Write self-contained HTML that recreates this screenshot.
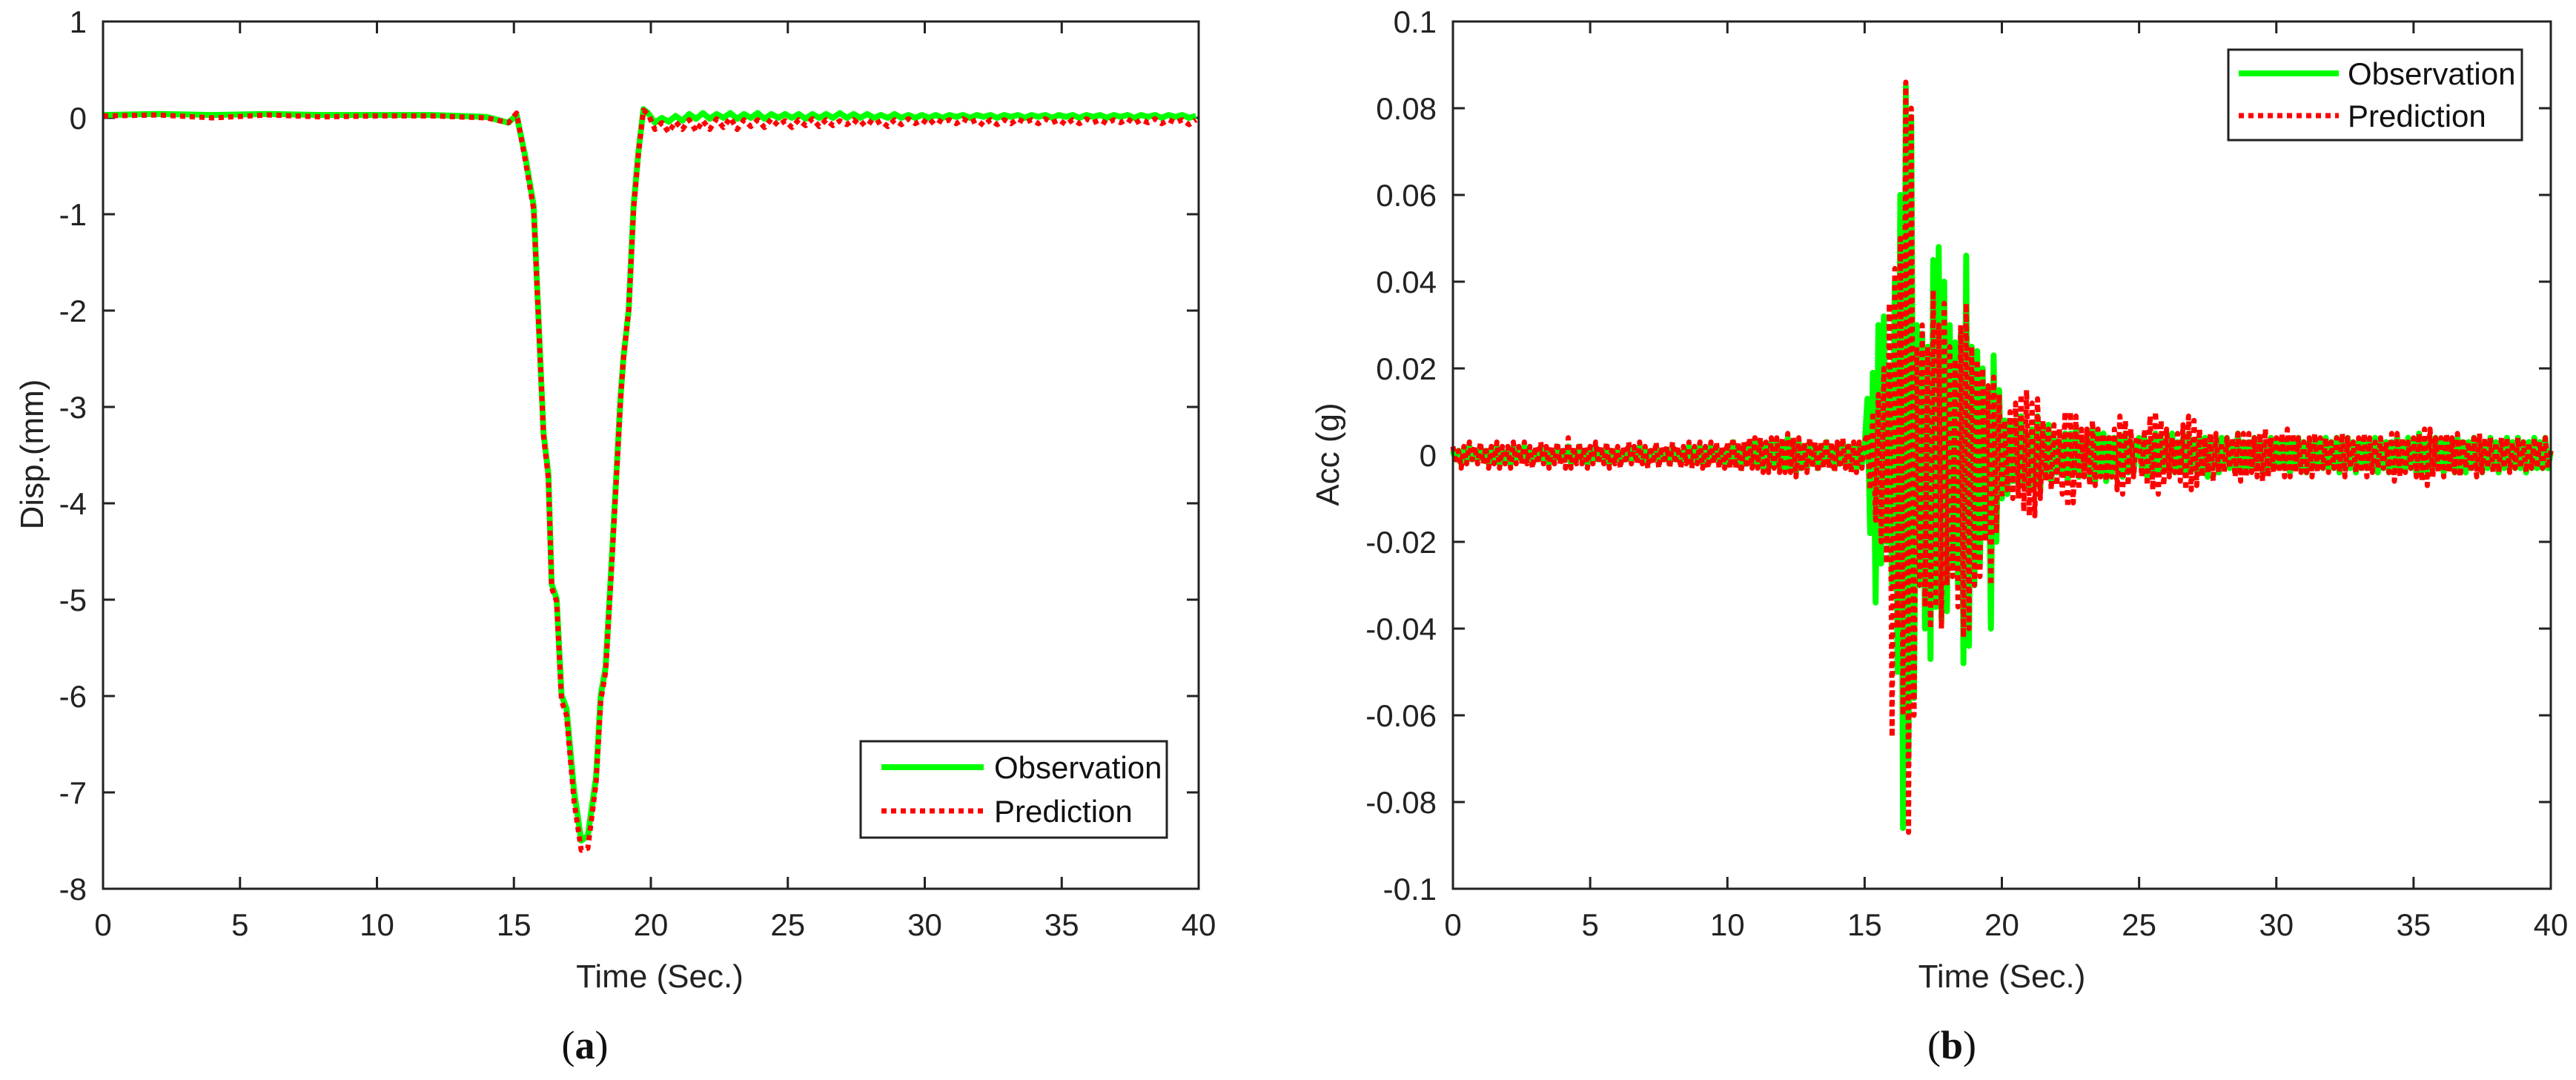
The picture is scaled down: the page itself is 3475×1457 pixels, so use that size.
<!DOCTYPE html>
<html><head><meta charset="utf-8"><style>
html,body{margin:0;padding:0;background:#fff;}
svg{display:block;font-family:"Liberation Sans",Arial,sans-serif;}
</style></head><body>
<svg id="fig" width="3475" height="1457" viewBox="0 0 3475 1457" xmlns="http://www.w3.org/2000/svg">
<g id="pa"></g>
<g id="pb"></g>
</svg>
<script>
// ---- Panel (a) data: displacement (mm) ----
const dispTimes=[0,2,4,6,8,10,12,14,14.8,15.1,15.42,15.72,15.96,16.08,16.26,16.38,16.56,16.74,16.92,17.2,17.46,17.7,18.0,18.17,18.35,18.59,18.89,19.0,19.19,19.37,19.55,19.73,19.9];
const dispObs=[0.03,0.04,0.03,0.04,0.03,0.03,0.03,0.01,-0.05,0.03,-0.41,-0.91,-2.48,-3.27,-3.7,-4.84,-4.99,-5.99,-6.13,-6.99,-7.5,-7.45,-6.84,-5.99,-5.7,-4.49,-2.91,-2.49,-1.99,-0.91,-0.34,0.09,0.05];
const dispPred=[0.02,0.03,0.0,0.03,0.01,0.02,0.02,0.0,-0.05,0.05,-0.45,-0.95,-2.5,-3.3,-3.75,-4.88,-5.02,-6.05,-6.2,-7.1,-7.6,-7.58,-6.9,-6.05,-5.75,-4.55,-2.95,-2.5,-2.0,-0.95,-0.36,0.08,0.04];
const tailStart=20.15, tailStep=0.25;
const tailObs=[-0.05,0.0,-0.04,0.02,-0.03,0.04,-0.01,0.05,-0.01,0.04,0,0.05,-0.01,0.04,0.0,0.05,-0.01,0.04,0,0.04,0,0.04,-0.01,0.04,0,0.04,0,0.05,0,0.04,0,0.04,0,0.03,0,0.04,0,0.03,0,0.03,0,0.03,0,0.03,0.01,0.03,0,0.03,0.01,0.03,0,0.03,0.01,0.03,0,0.03,0.01,0.03,0,0.03,0.01,0.03,0,0.03,0.01,0.03,0,0.03,0.01,0.03,0,0.03,0.01,0.03,0,0.03,0.01,0.03,0,0.02];
const tailPred=[-0.12,-0.05,-0.15,-0.04,-0.12,-0.02,-0.14,-0.03,-0.12,-0.01,-0.1,0,-0.12,-0.02,-0.09,-0.02,-0.1,-0.01,-0.08,-0.03,-0.1,-0.02,-0.08,-0.01,-0.09,-0.02,-0.08,-0.03,-0.07,-0.02,-0.08,-0.02,-0.07,-0.03,-0.09,-0.02,-0.07,-0.01,-0.06,-0.02,-0.07,-0.01,-0.05,-0.02,-0.06,-0.01,-0.05,-0.02,-0.08,-0.02,-0.07,-0.02,-0.06,-0.01,-0.05,-0.02,-0.06,-0.01,-0.05,-0.02,-0.07,-0.02,-0.06,-0.01,-0.05,-0.02,-0.06,-0.02,-0.05,-0.01,-0.06,-0.02,-0.05,-0.01,-0.06,-0.02,-0.05,-0.02,-0.07,-0.02];
const dispYTicks=[1,0,-1,-2,-3,-4,-5,-6,-7,-8];
const xTicks=[0,5,10,15,20,25,30,35,40];
// ---- Panel (b) data: acceleration (milli-g), sampled every 0.1 s ----
const accStep=0.1;
const accObs=[1,-1,1,-2,1,-1,2,-1,1,-1,2,-1,1,-2,1,-1,2,-2,1,-1,1,-2,2,-1,1,-1,2,-1,1,-2,1,-1,2,-1,1,-2,1,-1,2,-1,1,-1,2,-2,1,-1,2,-1,1,-2,
1,-1,2,-1,1,-1,2,-2,1,-1,1,-2,1,-1,2,-1,1,-1,2,-1,1,-2,1,-1,2,-2,1,-1,1,-2,2,-1,1,-2,1,-1,2,-2,1,-1,2,-2,1,-2,2,-1,2,-2,1,-2,
2,-2,3,-2,2,-3,2,-2,3,-2,3,-2,3,-3,2,-3,3,-2,3,-3,3,-3,4,-3,3,-4,3,-3,2,-3,3,-2,2,-3,2,-2,3,-2,2,-3,2,-2,3,-2,2,-3,2,-3,2,-2,
2,13,-18,19,-34,30,-25,32,-20,20,-30,40,-50,60,-86,85,-70,78,-56,30,-30,28,-40,25,-47,45,-35,48,-38,40,-36,30,-25,26,-30,28,-48,46,-44,25,-30,24,-25,20,-18,15,-40,23,-20,15,
-10,8,-9,7,-6,8,-7,9,-6,5,-8,6,-7,9,-8,6,-5,7,-6,4,-4,3,-4,5,-6,5,-4,6,-5,4,-3,4,-5,6,-6,5,-4,5,-6,4,-5,4,-3,4,-5,5,-4,3,-4,3,
4,-3,4,-5,3,-4,5,-4,4,-3,3,-4,5,-4,3,-3,4,-4,5,-3,3,-4,4,-3,4,-5,4,-3,3,-4,4,-3,4,-3,3,-4,5,-4,3,-3,3,-3,4,-3,3,-4,3,-3,4,-3,
3,-3,4,-3,3,-4,3,-3,4,-3,3,-4,3,-3,4,-3,3,-3,4,-3,3,-3,4,-4,3,-3,4,-3,3,-4,3,-3,4,-3,3,-3,4,-4,3,-3,3,-4,3,-3,4,-3,3,-3,4,-3,
3,-4,5,-4,3,-4,4,-3,4,-3,3,-4,4,-3,3,-4,4,-3,3,-4,3,-3,4,-3,3,-4,3,-3,4,-3,3,-4,3,-3,4,-3,3,-3,4,-3,3,-4,3,-3,4,-3,3,-3,4,-3,1];
const accPred=[2,-2,1,-3,2,-2,3,-1,2,-2,3,-2,2,-3,2,-2,3,-3,2,-2,2,-3,3,-2,2,-2,3,-2,2,-3,2,-2,3,-2,2,-3,2,-2,3,-2,2,-3,4,-3,2,-2,3,-2,2,-3,
2,-2,3,-2,2,-2,3,-3,2,-2,2,-3,2,-2,3,-2,2,-2,3,-2,2,-3,2,-2,3,-3,2,-2,2,-3,3,-2,2,-3,2,-2,3,-3,2,-2,3,-3,2,-3,3,-2,3,-3,2,-3,
3,-3,4,-3,3,-4,3,-3,4,-3,4,-3,4,-4,3,-4,4,-3,4,-4,4,-4,5,-4,4,-5,4,-4,3,-4,4,-3,3,-4,3,-3,4,-3,3,-4,3,-3,4,-3,3,-4,3,-4,3,-3,
3,5,-8,10,-15,14,-20,20,-25,35,-65,43,-40,50,-60,86,-87,80,-60,25,-30,30,-35,25,-40,38,-35,30,-40,35,-30,25,-28,22,-35,30,-42,35,-40,25,-30,22,-28,20,-20,16,-30,18,-18,14,
-10,8,-8,10,-10,12,-10,14,-13,15,-14,12,-14,13,-10,8,-6,6,-8,7,-7,6,-9,10,-12,10,-11,9,-8,6,-5,6,-7,8,-7,6,-5,5,-6,4,-5,6,-8,9,-9,8,-7,6,-5,4,
4,-5,6,-7,9,-8,10,-9,8,-7,6,-5,4,-4,5,-6,7,-8,9,-8,8,-7,6,-5,4,-4,5,-6,5,-4,3,-4,4,-3,4,-5,5,-6,5,-5,5,-4,4,-5,5,-6,6,-5,4,-4,
4,-4,5,-5,6,-5,5,-4,4,-4,3,-4,4,-5,5,-4,4,-3,4,-4,3,-3,4,-4,5,-5,4,-3,3,-4,4,-4,5,-5,4,-4,3,-3,4,-3,3,-4,5,-6,5,-5,4,-4,3,-3,
4,-5,5,-6,6,-7,6,-5,4,-4,4,-5,5,-4,4,-4,5,-5,4,-3,3,-4,4,-5,5,-4,4,-3,4,-4,3,-4,4,-3,4,-4,3,-3,4,-3,3,-4,3,-3,4,-3,3,-3,4,-3,1];
const accYTicks=[0.1,0.08,0.06,0.04,0.02,0,-0.02,-0.04,-0.06,-0.08,-0.1];
const accYLabels=["0.1","0.08","0.06","0.04","0.02","0","-0.02","-0.04","-0.06","-0.08","-0.1"];

const NS="http://www.w3.org/2000/svg";
function mk(parent,tag,attrs){const e=document.createElementNS(NS,tag);for(const k in attrs)e.setAttribute(k,attrs[k]);parent.appendChild(e);return e;}
const TOP=29,BOT=1199;

function panel(g,L,R,ymin,ymax,yt,ylab,xtitleX,ytitle,ytitleX,letter,letterX){
  const sx=t=>L+(t-0)/(40-0)*(R-L);
  const sy=v=>BOT-(v-ymin)/(ymax-ymin)*(BOT-TOP);
  const ax=mk(g,'g',{});
  
  
  xTicks.forEach(t=>{
    const x=sx(t);
    const a=mk(ax,'line',{x1:x,y1:BOT,x2:x,y2:BOT-16,stroke:'#222','stroke-width':3});
    
    const b=mk(ax,'line',{x1:x,y1:TOP,x2:x,y2:TOP+16,stroke:'#222','stroke-width':3});
    
    const tx=mk(ax,'text',{x:x,y:BOT+63,'font-size':42,'text-anchor':'middle',fill:'#222'});
    tx.textContent=t;
    
  });
  yt.forEach((v,i)=>{
    const y=sy(v);
    const a=mk(ax,'line',{x1:L,y1:y,x2:L+16,y2:y,stroke:'#222','stroke-width':3});
    
    const b=mk(ax,'line',{x1:R,y1:y,x2:R-16,y2:y,stroke:'#222','stroke-width':3});
    
    const tx=mk(ax,'text',{x:L-22,y:y+15,'font-size':42,'text-anchor':'end',fill:'#222'});
    tx.textContent=ylab[i];
    
  });
  const xt=mk(g,'text',{x:xtitleX,y:1332,'font-size':44,'text-anchor':'middle',fill:'#222'});
  xt.textContent='Time (Sec.)';
  
  const yy=mk(g,'text',{x:ytitleX,y:613,'font-size':44,'text-anchor':'middle',fill:'#222',transform:`rotate(-90 ${ytitleX} 613)`});
  yy.textContent=ytitle;
  
  const lt=mk(g,'text',{x:letterX,y:1428,'font-size':54,'text-anchor':'middle',fill:'#111','font-family':'"Liberation Serif",serif'});
  lt.innerHTML='(<tspan font-weight="bold">'+letter+'</tspan>)';
  
  return {sx,sy};
}
function drawLine(g,pts,color,dashed,name){
  const p=mk(g,'polyline',{points:pts.map(q=>q[0].toFixed(1)+','+q[1].toFixed(1)).join(' '),fill:'none',stroke:color,'stroke-width':dashed?7:8,'stroke-linejoin':'round'});
  if(dashed)p.setAttribute('stroke-dasharray','7 6');
  
  
}
function frame(g,L,R){
  const r=mk(g,'rect',{x:L,y:TOP,width:R-L,height:BOT-TOP,fill:'none',stroke:'#222','stroke-width':3});
  
}
function legend(g,x1,y1,x2,y2,lx1,lx2,yo,yp,tx){
  const lg=mk(g,'g',{});
  
  mk(lg,'rect',{x:x1,y:y1,width:x2-x1,height:y2-y1,fill:'#fff',stroke:'#222','stroke-width':3});
  const a=mk(lg,'line',{x1:lx1,y1:yo,x2:lx2,y2:yo,stroke:'#00ff00','stroke-width':8});
  
  const b=mk(lg,'line',{x1:lx1,y1:yp,x2:lx2,y2:yp,stroke:'#ff0000','stroke-width':7,'stroke-dasharray':'7 6'});
  
  const t1=mk(lg,'text',{x:tx,y:yo+15,'font-size':42,fill:'#111'});t1.textContent='Observation';
  
  const t2=mk(lg,'text',{x:tx,y:yp+15,'font-size':42,fill:'#111'});t2.textContent='Prediction';
  
}

// Panel a
(function(){
  const g=document.getElementById('pa');
  const L=139,R=1617;
  const s=panel(g,L,R,-8,1,dispYTicks,dispYTicks.map(String),(L+R)/2+12,'Disp.(mm)',58,'a',789);
  const obs=dispTimes.map((t,i)=>[s.sx(t),s.sy(dispObs[i])]);
  const pred=dispTimes.map((t,i)=>[s.sx(t),s.sy(dispPred[i])]);
  tailObs.forEach((v,i)=>obs.push([s.sx(tailStart+i*tailStep),s.sy(v)]));
  tailPred.forEach((v,i)=>pred.push([s.sx(tailStart+i*tailStep),s.sy(v)]));
  drawLine(g,obs,'#00ff00',false,'observation-line');
  drawLine(g,pred,'#ff0000',true,'prediction-line');
  frame(g,L,R);
  legend(g,1161,1000,1574,1130,1189,1327,1035,1094,1341);
})();
// Panel b
(function(){
  const g=document.getElementById('pb');
  const L=1960,R=3441;
  const s=panel(g,L,R,-0.1,0.1,accYTicks,accYLabels,(L+R)/2,'Acc (g)',1806,'b',2633);
  const obs=accObs.map((v,i)=>[s.sx(i*accStep),s.sy(v/1000)]);
  const pred=accPred.map((v,i)=>[s.sx(i*accStep),s.sy(v/1000)]);
  drawLine(g,obs,'#00ff00',false,'observation-line');
  drawLine(g,pred,'#ff0000',true,'prediction-line');
  frame(g,L,R);
  legend(g,3006,67,3402,189,3020,3155,99,156,3167);
})();
</script>
</body></html>
